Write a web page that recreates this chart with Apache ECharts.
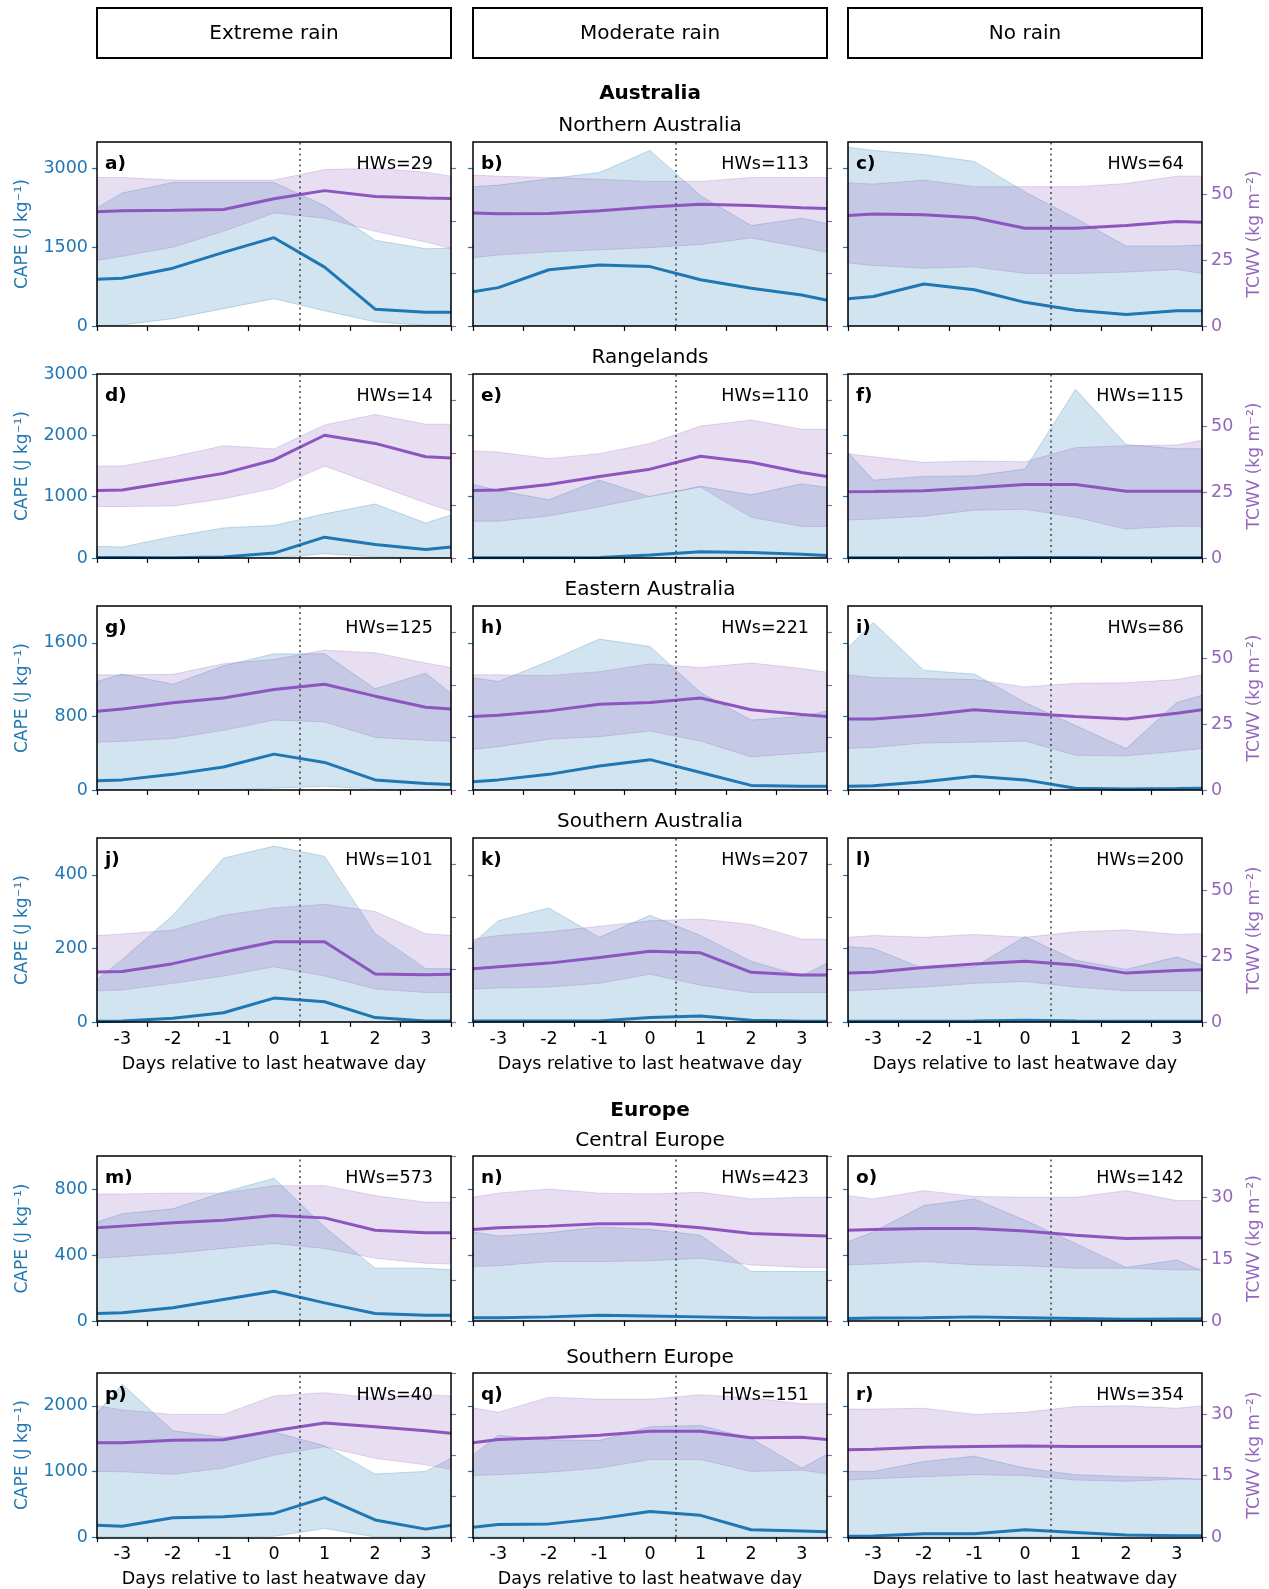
<!DOCTYPE html>
<html><head><meta charset="utf-8">
<script src="https://cdn.jsdelivr.net/npm/echarts@6/dist/echarts.min.js"></script>
<style>html,body{margin:0;padding:0;background:#fff}#c{width:1269px;height:1589px}</style>
</head><body><div id="c"></div>
<script>
// ---------- DATA ----------
const days = [-3.5, -3, -2, -1, 0, 1, 2, 3, 3.5];
const xTickLabels = [-3, -2, -1, 0, 1, 2, 3];
const xTickMarks = [-3.5, -2.5, -1.5, -0.5, 0.5, 1.5, 2.5, 3.5];
const columnTitles = ['Extreme rain', 'Moderate rain', 'No rain'];
const regionTitles = ['Northern Australia', 'Rangelands', 'Eastern Australia', 'Southern Australia', 'Central Europe', 'Southern Europe'];
const continentTitles = ['Australia', 'Europe'];
const panelLetters = ['a','b','c','d','e','f','g','h','i','j','k','l','m','n','o','p','q','r'];
const heatwaveCounts = [29, 113, 64, 14, 110, 115, 125, 221, 86, 101, 207, 200, 573, 423, 142, 40, 151, 354];
const capeMax = [3500, 3000, 2000, 500, 1000, 2500];
const capeTicks = [[0, 1500, 3000], [0, 1000, 2000, 3000], [0, 800, 1600], [0, 200, 400], [0, 400, 800], [0, 1000, 2000]];
const tcwvMax = [70, 70, 70, 70, 40, 40];
const tcwvTicksLabelled = [[0, 25, 50], [0, 25, 50], [0, 25, 50], [0, 25, 50], [0, 15, 30], [0, 15, 30]];
const tcwvTicksPlain = [[0, 20, 40, 60], [0, 20, 40, 60], [0, 20, 40, 60], [0, 20, 40, 60], [0, 10, 20, 30, 40], [0, 10, 20, 30, 40]];

// a) Northern Australia, extreme rain
const capeMed_a = [890, 910, 1100, 1400, 1680, 1120, 320, 260, 260];
const capeLo_a  = [0, 20, 140, 330, 520, 290, 80, 10, 0];
const capeHi_a  = [2250, 2530, 2730, 2730, 2730, 2290, 1630, 1470, 1480];
const tcwvMed_a = [43.5, 43.8, 44, 44.3, 48.4, 51.5, 49.3, 48.7, 48.5];
const tcwvLo_a  = [25, 26.5, 30, 36, 43, 41, 36, 32, 29.5];
const tcwvHi_a  = [56.5, 56.5, 55.5, 55.5, 55.5, 59.5, 60, 58.5, 57];
// b)
const capeMed_b = [650, 730, 1070, 1160, 1130, 880, 720, 590, 490];
const capeLo_b  = [0, 0, 0, 0, 0, 0, 0, 0, 0];
const capeHi_b  = [2650, 2680, 2800, 2920, 3340, 2480, 1910, 2050, 1950];
const tcwvMed_b = [43, 42.7, 42.8, 43.8, 45.3, 46.3, 45.8, 45, 44.7];
const tcwvLo_b  = [26, 27, 28.2, 29, 29.8, 31, 33.5, 30, 28];
const tcwvHi_b  = [57.4, 57, 56.5, 55.8, 55, 55, 56.5, 56.5, 56.5];
// c)
const capeMed_c = [520, 560, 800, 690, 450, 300, 220, 290, 290];
const capeLo_c  = [0, 0, 0, 0, 0, 0, 0, 0, 0];
const capeHi_c  = [3400, 3340, 3260, 3130, 2550, 2050, 1520, 1520, 1540];
const tcwvMed_c = [42, 42.6, 42.3, 41.2, 37.2, 37.2, 38.2, 39.8, 39.5];
const tcwvLo_c  = [24, 23, 22, 22.5, 20, 20, 20.5, 21.5, 20];
const tcwvHi_c  = [54.5, 54, 55.5, 53, 53, 53, 54.2, 57, 57];
// d) Rangelands
const capeMed_d = [10, 10, 5, 15, 80, 340, 220, 140, 180];
const capeLo_d  = [0, 0, 0, 0, 0, 70, 20, 0, 0];
const capeHi_d  = [190, 180, 350, 490, 530, 720, 880, 570, 700];
const tcwvMed_d = [25.7, 25.9, 29, 32.2, 37.3, 46.7, 43.6, 38.5, 38];
const tcwvLo_d  = [19.6, 19.6, 19.8, 22.5, 26.5, 35, 28, 21, 17.8];
const tcwvHi_d  = [35, 35, 38.5, 42.7, 41.5, 50.6, 54.6, 50.9, 50.9];
// e)
const capeMed_e = [5, 5, 5, 10, 50, 100, 90, 60, 40];
const capeLo_e  = [0, 0, 0, 0, 0, 0, 0, 0, 0];
const capeHi_e  = [1200, 1100, 950, 1270, 1000, 1170, 1030, 1210, 1150];
const tcwvMed_e = [25.7, 25.9, 28, 31, 33.8, 38.7, 36.4, 32.5, 31];
const tcwvLo_e  = [14, 14, 16, 19.5, 23.5, 27, 15.5, 12, 12];
const tcwvHi_e  = [40.8, 40.3, 37.8, 39.7, 43.6, 50.2, 52.5, 49, 49];
// f)
const capeMed_f = [5, 5, 5, 5, 8, 8, 5, 5, 5];
const capeLo_f  = [0, 0, 0, 0, 0, 0, 0, 0, 0];
const capeHi_f  = [1720, 1270, 1330, 1340, 1450, 2750, 1850, 1780, 1780];
const tcwvMed_f = [25.2, 25.3, 25.6, 26.7, 28, 28, 25.4, 25.4, 25.4];
const tcwvLo_f  = [14.5, 14.8, 15.9, 18.2, 18.5, 15.5, 11, 12.1, 12];
const tcwvHi_f  = [39.7, 38.5, 36.4, 36.9, 36.6, 42, 42.7, 43, 44.8];
// g) Eastern Australia
const capeMed_g = [100, 110, 170, 250, 390, 300, 110, 70, 60];
const capeLo_g  = [0, 0, 0, 0, 20, 40, 10, 0, 0];
const capeHi_g  = [1180, 1260, 1150, 1350, 1480, 1480, 1100, 1270, 1050];
const tcwvMed_g = [30, 30.8, 33.2, 35, 38.2, 40.2, 35.7, 31.5, 30.8];
const tcwvLo_g  = [18.2, 18.5, 19.6, 22.7, 26.6, 25.9, 20, 18.9, 18.5];
const tcwvHi_g  = [43.8, 43.8, 44, 48, 49.7, 53.2, 52.2, 48.3, 46.6];
// h)
const capeMed_h = [90, 110, 170, 260, 330, 190, 50, 40, 40];
const capeLo_h  = [0, 0, 0, 0, 0, 0, 0, 0, 0];
const capeHi_h  = [1220, 1180, 1400, 1640, 1560, 1060, 760, 800, 860];
const tcwvMed_h = [28, 28.4, 30.1, 32.6, 33.3, 35, 30.5, 28.7, 28];
const tcwvLo_h  = [15.4, 16.5, 19.3, 20.3, 22.4, 18.6, 12.6, 14, 14.7];
const tcwvHi_h  = [43.8, 43.8, 43.5, 45, 48, 46.6, 48.3, 46.2, 44.8];
// i)
const capeMed_i = [40, 45, 90, 150, 110, 20, 10, 15, 20];
const capeLo_i  = [0, 0, 0, 0, 0, 0, 0, 0, 0];
const capeHi_i  = [1550, 1820, 1300, 1260, 950, 700, 450, 950, 1030];
const tcwvMed_i = [27, 27, 28.4, 30.5, 29.2, 28, 27, 29.2, 30.5];
const tcwvLo_i  = [15.8, 16.2, 17.9, 18.2, 18.6, 13.2, 13, 14.7, 15.8];
const tcwvHi_i  = [43.8, 42.8, 42.4, 42, 39.2, 40.6, 40.8, 42, 43.8];
// j) Southern Australia
const capeMed_j = [2, 3, 10, 25, 65, 55, 12, 3, 3];
const capeLo_j  = [0, 0, 0, 0, 0, 0, 0, 0, 0];
const capeHi_j  = [115, 170, 290, 445, 478, 450, 240, 145, 145];
const tcwvMed_j = [19, 19.2, 22.2, 26.5, 30.5, 30.5, 18.3, 18, 18.2];
const tcwvLo_j  = [11.9, 12.2, 14.7, 17.5, 21, 17.5, 12.6, 11.2, 11.2];
const tcwvHi_j  = [32.9, 33.5, 35, 40.6, 43.4, 44.8, 42, 33.6, 33];
// k)
const capeMed_k = [3, 3, 3, 3, 12, 16, 5, 2, 2];
const capeLo_k  = [0, 0, 0, 0, 0, 0, 0, 0, 0];
const capeHi_k  = [215, 275, 310, 230, 290, 235, 165, 125, 160];
const tcwvMed_k = [20.3, 21, 22.4, 24.5, 26.9, 26.3, 18.9, 17.9, 17.9];
const tcwvLo_k  = [12.6, 12.9, 13.3, 14.7, 18.2, 14, 11.2, 11.2, 11.2];
const tcwvHi_k  = [31.5, 32.9, 34.3, 36.4, 38.5, 39.2, 37.1, 31.5, 31.5];
// l)
const capeMed_l = [2, 2, 2, 3, 5, 3, 2, 2, 2];
const capeLo_l  = [0, 0, 0, 0, 0, 0, 0, 0, 0];
const capeHi_l  = [205, 200, 145, 150, 232, 168, 143, 177, 155];
const tcwvMed_l = [18.6, 18.9, 20.7, 22.1, 23.1, 21.7, 18.6, 19.6, 19.9];
const tcwvLo_l  = [11.9, 12.3, 13.3, 14.7, 15.4, 13.3, 11.9, 11.9, 11.9];
const tcwvHi_l  = [32.2, 32.9, 32.2, 33.3, 32.2, 34.3, 35, 33.3, 33.6];
// m) Central Europe
const capeMed_m = [45, 50, 80, 130, 180, 110, 45, 35, 35];
const capeLo_m  = [0, 0, 0, 0, 0, 0, 0, 0, 0];
const capeHi_m  = [600, 650, 680, 780, 865, 570, 320, 320, 310];
const tcwvMed_m = [22.6, 23, 23.8, 24.4, 25.6, 25, 22, 21.4, 21.4];
const tcwvLo_m  = [15.2, 15.6, 16.4, 17.6, 18.8, 17.6, 15.2, 14, 13.8];
const tcwvHi_m  = [30.8, 30.8, 31, 31, 32.8, 32.8, 30.4, 28.8, 28.8];
// n)
const capeMed_n = [20, 20, 25, 35, 30, 25, 20, 18, 18];
const capeLo_n  = [0, 0, 0, 0, 0, 0, 0, 0, 0];
const capeHi_n  = [540, 515, 535, 570, 555, 520, 300, 300, 300];
const tcwvMed_n = [22.2, 22.6, 23, 23.6, 23.6, 22.6, 21.2, 20.8, 20.6];
const tcwvLo_n  = [13.2, 13.4, 14.4, 14.4, 14.6, 15.2, 13.6, 13, 13];
const tcwvHi_n  = [30, 31, 32, 31, 30.8, 31.2, 29.6, 30, 30];
// o)
const capeMed_o = [15, 18, 20, 25, 20, 15, 10, 12, 12];
const capeLo_o  = [0, 0, 0, 0, 0, 0, 0, 0, 0];
const capeHi_o  = [480, 540, 700, 740, 610, 470, 325, 370, 305];
const tcwvMed_o = [22, 22.2, 22.4, 22.4, 21.8, 20.8, 20, 20.2, 20.2];
const tcwvLo_o  = [13.6, 13.8, 14.4, 13.6, 13.4, 12.8, 12.8, 12.4, 12.4];
const tcwvHi_o  = [30.4, 29.6, 31.6, 30.2, 30, 30, 31.6, 29.2, 29.2];
// p) Southern Europe
const capeMed_p = [180, 165, 295, 310, 360, 600, 260, 120, 180];
const capeLo_p  = [0, 0, 0, 0, 10, 130, 0, 0, 0];
const capeHi_p  = [1890, 2330, 1620, 1520, 1600, 1390, 960, 1000, 1200];
const tcwvMed_p = [23, 23, 23.6, 23.7, 25.9, 27.8, 26.9, 25.9, 25.3];
const tcwvLo_p  = [16, 15.9, 15.3, 16.8, 20, 22, 19.2, 17.6, 16.5];
const tcwvHi_p  = [32, 31, 29.9, 29.9, 34.4, 35.2, 33.9, 34.7, 34.4];
// q)
const capeMed_q = [150, 190, 200, 280, 390, 330, 110, 90, 80];
const capeLo_q  = [0, 0, 0, 0, 0, 0, 0, 0, 0];
const capeHi_q  = [1250, 1550, 1480, 1470, 1680, 1700, 1500, 1050, 1260];
const tcwvMed_q = [23, 23.8, 24.2, 24.8, 25.8, 25.8, 24.2, 24.3, 23.8];
const tcwvLo_q  = [15, 15.2, 15.8, 16.8, 18.9, 18.9, 16, 16.3, 15.4];
const tcwvHi_q  = [31.5, 30.4, 34.1, 33.6, 33.6, 34.7, 33.9, 32.5, 32.5];
// r)
const capeMed_r = [10, 15, 50, 50, 110, 70, 30, 20, 20];
const capeLo_r  = [0, 0, 0, 0, 0, 0, 0, 0, 0];
const capeHi_r  = [1000, 1000, 1150, 1230, 1050, 950, 920, 900, 880];
const tcwvMed_r = [21.3, 21.4, 21.9, 22.1, 22.2, 22.1, 22.1, 22.1, 22.1];
const tcwvLo_r  = [13.9, 14.2, 14.7, 15.2, 15, 13.9, 13.6, 14.1, 14.1];
const tcwvHi_r  = [31.2, 31.2, 31.4, 29.9, 30.4, 31.8, 32, 31.4, 32];

const panelArrays = [
  [capeMed_a, capeLo_a, capeHi_a, tcwvMed_a, tcwvLo_a, tcwvHi_a],
  [capeMed_b, capeLo_b, capeHi_b, tcwvMed_b, tcwvLo_b, tcwvHi_b],
  [capeMed_c, capeLo_c, capeHi_c, tcwvMed_c, tcwvLo_c, tcwvHi_c],
  [capeMed_d, capeLo_d, capeHi_d, tcwvMed_d, tcwvLo_d, tcwvHi_d],
  [capeMed_e, capeLo_e, capeHi_e, tcwvMed_e, tcwvLo_e, tcwvHi_e],
  [capeMed_f, capeLo_f, capeHi_f, tcwvMed_f, tcwvLo_f, tcwvHi_f],
  [capeMed_g, capeLo_g, capeHi_g, tcwvMed_g, tcwvLo_g, tcwvHi_g],
  [capeMed_h, capeLo_h, capeHi_h, tcwvMed_h, tcwvLo_h, tcwvHi_h],
  [capeMed_i, capeLo_i, capeHi_i, tcwvMed_i, tcwvLo_i, tcwvHi_i],
  [capeMed_j, capeLo_j, capeHi_j, tcwvMed_j, tcwvLo_j, tcwvHi_j],
  [capeMed_k, capeLo_k, capeHi_k, tcwvMed_k, tcwvLo_k, tcwvHi_k],
  [capeMed_l, capeLo_l, capeHi_l, tcwvMed_l, tcwvLo_l, tcwvHi_l],
  [capeMed_m, capeLo_m, capeHi_m, tcwvMed_m, tcwvLo_m, tcwvHi_m],
  [capeMed_n, capeLo_n, capeHi_n, tcwvMed_n, tcwvLo_n, tcwvHi_n],
  [capeMed_o, capeLo_o, capeHi_o, tcwvMed_o, tcwvLo_o, tcwvHi_o],
  [capeMed_p, capeLo_p, capeHi_p, tcwvMed_p, tcwvLo_p, tcwvHi_p],
  [capeMed_q, capeLo_q, capeHi_q, tcwvMed_q, tcwvLo_q, tcwvHi_q],
  [capeMed_r, capeLo_r, capeHi_r, tcwvMed_r, tcwvLo_r, tcwvHi_r]
];

// ---------- STYLE / LAYOUT ----------
const FONT = 'DejaVu Sans';
const BLUE = '#1f77b4', PURPLE = '#9467bd', PURPLE_LINE = '#8c55c0';
const BLUE_FILL = 'rgba(31,119,180,0.2)', PURPLE_FILL = 'rgba(148,103,189,0.22)';
const BLUE_EDGE = 'rgba(31,119,180,0.25)', PURPLE_EDGE = 'rgba(148,103,189,0.25)';
const colLeft = [97, 473, 848], colWidth = 354;
const rowTop = [142, 374, 606, 838, 1156, 1373];
const rowHeight = [184, 184, 184, 184, 165, 165];
const regionTitleY = [126, 358, 590, 822, 1141, 1358];
const continentTitleY = [94, 1111];
const xLabelRows = [3, 5];
const centerX = 650;

const grid = [], xAxis = [], yAxis = [], series = [], graphic = [];

function band(gi, yi, lo, hi, fill, edge, z) {
  return {
    type: 'custom', coordinateSystem: 'cartesian2d', xAxisIndex: gi, yAxisIndex: yi,
    data: days.map((d, i) => [d, lo[i], hi[i]]),
    encode: { x: 0, y: [1, 2] }, silent: true, z: z, animation: false,
    renderItem: function (params, api) {
      if (params.dataIndex !== 0) return null;
      const top = days.map((d, i) => api.coord([d, hi[i]]));
      const bot = days.map((d, i) => api.coord([d, lo[i]])).reverse();
      return { type: 'polygon', shape: { points: top.concat(bot) }, style: { fill: fill, stroke: edge, lineWidth: 1 } };
    }
  };
}

function txt(x, y, text, size, opts) {
  opts = opts || {};
  return { type: 'text', x: x, y: y, z: 100, silent: true,
    style: { text: text, fontSize: size, fontFamily: FONT, fontWeight: opts.bold ? 'bold' : 'normal',
      fill: opts.color || '#000', align: opts.align || 'center', textAlign: opts.align || 'center',
      verticalAlign: 'middle', textVerticalAlign: 'middle' } };
}

for (let r = 0; r < 6; r++) {
  for (let c = 0; c < 3; c++) {
    const p = r * 3 + c;
    const [cm, cl, ch, tm, tl, th] = panelArrays[p];
    const showX = xLabelRows.includes(r);
    grid.push({ left: colLeft[c], top: rowTop[r], width: colWidth, height: rowHeight[r] });
    xAxis.push({
      gridIndex: p, type: 'value', min: -3.5, max: 3.5, position: 'bottom',
      axisLine: { show: false, onZero: false }, splitLine: { show: false },
      axisTick: { show: true, customValues: xTickMarks, length: 5, lineStyle: { color: '#000', width: 1.2 } },
      axisLabel: { show: showX, customValues: xTickLabels, formatter: v => String(v), fontSize: 17.5, fontFamily: FONT, color: '#000', margin: 8 },
      name: showX ? 'Days relative to last heatwave day' : '', nameLocation: 'middle', nameGap: 33,
      nameTextStyle: { fontSize: 17.5, fontFamily: FONT, color: '#000' }
    });
    yAxis.push({
      gridIndex: p, type: 'value', position: 'left', min: 0, max: capeMax[r],
      axisLine: { show: false, onZero: false }, splitLine: { show: false },
      axisTick: { show: true, customValues: capeTicks[r], length: 5, lineStyle: { color: BLUE, width: 1.2 } },
      axisLabel: { show: c === 0, customValues: capeTicks[r], formatter: v => String(v), fontSize: 17.5, fontFamily: FONT, color: BLUE, margin: 9 },
      name: c === 0 ? 'CAPE (J kg\u207B\u00B9)' : '', nameLocation: 'middle', nameRotate: 90, nameGap: 66,
      nameTextStyle: { fontSize: 17, fontFamily: FONT, color: BLUE }
    });
    const tTicks = c === 2 ? tcwvTicksLabelled[r] : tcwvTicksPlain[r];
    yAxis.push({
      gridIndex: p, type: 'value', position: 'right', min: 0, max: tcwvMax[r],
      axisLine: { show: false, onZero: false }, splitLine: { show: false },
      axisTick: { show: true, customValues: tTicks, length: 5, lineStyle: { color: PURPLE, width: 1.2 } },
      axisLabel: { show: c === 2, customValues: tTicks, formatter: v => String(v), fontSize: 17.5, fontFamily: FONT, color: PURPLE, margin: 9 },
      name: c === 2 ? 'TCWV (kg m\u207B\u00B2)' : '', nameLocation: 'middle', nameRotate: 90, nameGap: 44,
      nameTextStyle: { fontSize: 17, fontFamily: FONT, color: PURPLE }
    });
    const yC = 2 * p, yT = 2 * p + 1;
    series.push(band(p, yC, cl, ch, BLUE_FILL, BLUE_EDGE, 1));
    series.push({ type: 'line', xAxisIndex: p, yAxisIndex: yC, data: days.map((d, i) => [d, cm[i]]),
      symbol: 'none', lineStyle: { color: BLUE, width: 3 }, itemStyle: { color: BLUE }, z: 2, animation: false, silent: true });
    series.push(band(p, yT, tl, th, PURPLE_FILL, PURPLE_EDGE, 3));
    series.push({ type: 'line', xAxisIndex: p, yAxisIndex: yT, data: days.map((d, i) => [d, tm[i]]),
      symbol: 'none', lineStyle: { color: PURPLE_LINE, width: 3 }, itemStyle: { color: PURPLE_LINE }, z: 4, animation: false, silent: true,
      markLine: { silent: true, symbol: ['none', 'none'], label: { show: false }, animation: false,
        lineStyle: { color: '#444', width: 1.5, type: [2, 3.5] }, data: [{ xAxis: 0.5 }] } });
    // panel border
    graphic.push({ type: 'rect', z: 99, silent: true, shape: { x: colLeft[c], y: rowTop[r], width: colWidth, height: rowHeight[r] },
      style: { fill: 'transparent', stroke: '#000', lineWidth: 1.5 } });
    graphic.push(txt(colLeft[c] + 8, rowTop[r] + 22, panelLetters[p] + ')', 18.5, { bold: true, align: 'left' }));
    graphic.push(txt(colLeft[c] + colWidth - 18, rowTop[r] + 22, 'HWs=' + heatwaveCounts[p], 17.5, { align: 'right' }));
  }
}

// header boxes
for (let c = 0; c < 3; c++) {
  graphic.push({ type: 'rect', z: 99, silent: true, shape: { x: colLeft[c], y: 8, width: colWidth, height: 50 },
    style: { fill: '#fff', stroke: '#000', lineWidth: 2 } });
  graphic.push(txt(colLeft[c] + colWidth / 2, 34, columnTitles[c], 20));
}
graphic.push(txt(centerX, continentTitleY[0], continentTitles[0], 20, { bold: true }));
graphic.push(txt(centerX, continentTitleY[1], continentTitles[1], 20, { bold: true }));
for (let r = 0; r < 6; r++) graphic.push(txt(centerX, regionTitleY[r], regionTitles[r], 20));

const chart = echarts.init(document.getElementById('c'), null, { renderer: 'canvas' });
chart.setOption({
  animation: false, backgroundColor: '#fff',
  textStyle: { fontFamily: FONT },
  grid: grid, xAxis: xAxis, yAxis: yAxis, series: series,
  graphic: { elements: graphic }
});
</script></body></html>
